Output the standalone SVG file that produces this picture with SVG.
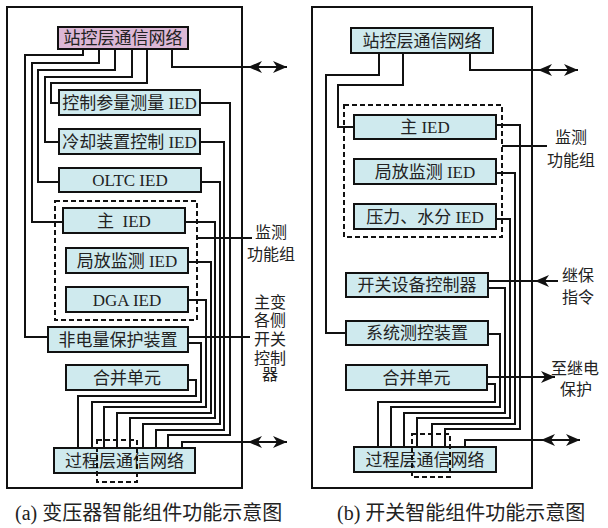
<svg xmlns="http://www.w3.org/2000/svg" width="608" height="528" viewBox="0 0 608 528">
<defs>
<marker id="ah" markerUnits="userSpaceOnUse" markerWidth="14" markerHeight="14" viewBox="0 0 14 14" refX="14" refY="7" orient="auto-start-reverse">
<path d="M0,1 L14,7 L0,13 L4,7 Z" fill="#111"/>
</marker>
<style>
.frame{fill:none;stroke:#111;stroke-width:2}
.box{fill:#cfeaee;stroke:#111;stroke-width:2}
.pink{fill:#dcb8d6;stroke:#111;stroke-width:2}
.dash{fill:none;stroke:#111;stroke-width:2;stroke-dasharray:5,3}
.w{fill:none;stroke:#111;stroke-width:2}
.arr{fill:none;stroke:#111;stroke-width:2;marker-end:url(#ah)}
.darr{fill:none;stroke:#111;stroke-width:2;marker-start:url(#ah);marker-end:url(#ah)}
text{font-family:"Liberation Serif","Noto Sans CJK SC",serif;fill:#222}
.t{font-size:17px;text-anchor:middle}
.l{font-size:16px;text-anchor:middle}
.c{font-size:20px}
</style>
</defs>
<rect x="0" y="0" width="608" height="528" fill="#fff"/>
<rect class="frame" x="7" y="7" width="235" height="481"/>
<rect class="frame" x="312" y="7" width="220" height="481"/>

<g id="connectors">
<!-- left panel, from station bus -->
<polyline class="w" points="83,49 83,55 25,55 25,337 48,337"/>
<polyline class="w" points="99,49 99,63 32,63 32,222 63,222"/>
<polyline class="w" points="115,49 115,70 38,70 38,182 59,182"/>
<polyline class="w" points="132,49 132,77 45,77 45,142 59,142"/>
<polyline class="w" points="147,49 147,83 51,83 51,103 59,103"/>
<polyline class="w" points="172,49 172,67 248,67"/>
<line class="darr" x1="248" y1="67" x2="287" y2="67"/>
<!-- left panel, to process bus -->
<polyline class="w" points="200,103 230,103 230,435 168,435 168,448"/>
<polyline class="w" points="200,142 224,142 224,430 156,430 156,448"/>
<polyline class="w" points="201,182 220,182 220,424 143,424 143,448"/>
<polyline class="w" points="185,222 215,222 215,418 130,418 130,448"/>
<polyline class="w" points="188,262 211,262 211,413 117,413 117,448"/>
<polyline class="w" points="188,300 206,300 206,407 104,407 104,448"/>
<polyline class="w" points="188,343 201,343 201,402 92,402 92,448"/>
<polyline class="w" points="188,380 196,380 196,396 78,396 78,448"/>
<polyline class="w" points="182,448 182,442 248,442"/>
<line class="darr" x1="248" y1="442" x2="287" y2="442"/>
<line class="w" x1="197" y1="238" x2="252" y2="238"/>
<line class="w" x1="188" y1="337" x2="250" y2="337"/>

<!-- right panel, from station bus -->
<polyline class="w" points="379,53 379,75 326,75 326,333 346,333"/>
<polyline class="w" points="403,53 403,85 338,85 338,127 354,127"/>
<polyline class="w" points="470,53 470,70 538,70"/>
<line class="darr" x1="538" y1="70" x2="578" y2="70"/>
<!-- right panel, to process bus -->
<polyline class="w" points="496,125 520,125 520,429 445,429 445,447"/>
<polyline class="w" points="496,173 515,173 515,424 432,424 432,447"/>
<polyline class="w" points="496,219 510,219 510,418 417,418 417,447"/>
<polyline class="w" points="488,288 505,288 505,413 404,413 404,447"/>
<polyline class="w" points="488,334 500,334 500,407 391,407 391,447"/>
<polyline class="w" points="487,384 495,384 495,402 378,402 378,447"/>
<polyline class="w" points="465,447 465,440 541,440"/>
<line class="darr" x1="541" y1="440" x2="580" y2="440"/>
<line class="w" x1="488" y1="281" x2="535" y2="281"/>
<line class="arr" x1="558" y1="281" x2="535" y2="281"/>
<line class="arr" x1="487" y1="377" x2="555" y2="377"/>
<line class="w" x1="502" y1="146" x2="547" y2="146"/>
</g>

<!-- left panel nodes -->
<g id="a-station-bus"><rect class="pink" x="58" y="27" width="130" height="22"/><text class="t" x="123" y="44">站控层通信网络</text></g>
<g id="a-param-ied"><rect class="box" x="59" y="90" width="141" height="25"/><text class="t" x="129.5" y="108.5">控制参量测量 IED</text></g>
<g id="a-cool-ied"><rect class="box" x="59" y="129" width="141" height="25"/><text class="t" x="129.5" y="147.5">冷却装置控制 IED</text></g>
<g id="a-oltc-ied"><rect class="box" x="59" y="168" width="142" height="24"/><text class="t" x="130" y="186">OLTC IED</text></g>
<g id="a-monitor-group"><rect class="dash" x="55" y="201" width="142" height="119"/></g>
<g id="a-main-ied"><rect class="box" x="63" y="208" width="122" height="25"/><text class="t" x="124" y="226.5" xml:space="preserve">主  IED</text></g>
<g id="a-pd-ied"><rect class="box" x="66" y="248" width="122" height="25"/><text class="t" x="127" y="266.5">局放监测 IED</text></g>
<g id="a-dga-ied"><rect class="box" x="66" y="287" width="122" height="25"/><text class="t" x="127" y="305.5">DGA IED</text></g>
<g id="a-nonelec"><rect class="box" x="48" y="327" width="140" height="25"/><text class="t" x="118" y="345.5">非电量保护装置</text></g>
<g id="a-merge"><rect class="box" x="66" y="365" width="122" height="25"/><text class="t" x="127" y="383.5">合并单元</text></g>
<g id="a-process-bus"><rect class="box" x="54" y="448" width="141" height="25"/><text class="t" x="124.5" y="466.5">过程层通信网络</text><rect class="dash" x="97" y="440" width="40" height="42"/></g>
<g id="a-labels">
<text class="l" x="271" y="237.5">监测</text>
<text class="l" x="271" y="259.5">功能组</text>
<text class="l" x="270" y="307.5">主变</text>
<text class="l" x="270" y="326">各侧</text>
<text class="l" x="270" y="345">开关</text>
<text class="l" x="270" y="363.5">控制</text>
<text class="l" x="270" y="380">器</text>
</g>

<!-- right panel nodes -->
<g id="b-station-bus"><rect class="box" x="351" y="28" width="142" height="25"/><text class="t" x="422" y="46.5">站控层通信网络</text></g>
<g id="b-monitor-group"><rect class="dash" x="344" y="105" width="158" height="132"/></g>
<g id="b-main-ied"><rect class="box" x="354" y="115" width="142" height="24"/><text class="t" x="425" y="133">主 IED</text></g>
<g id="b-pd-ied"><rect class="box" x="354" y="159" width="142" height="25"/><text class="t" x="425" y="177.5">局放监测 IED</text></g>
<g id="b-gas-ied"><rect class="box" x="354" y="204" width="142" height="25"/><text class="t" x="425" y="222.5">压力、水分 IED</text></g>
<g id="b-switch-ctrl"><rect class="box" x="346" y="273" width="142" height="24"/><text class="t" x="417" y="291">开关设备控制器</text></g>
<g id="b-sys-ctrl"><rect class="box" x="346" y="321" width="142" height="24"/><text class="t" x="417" y="339">系统测控装置</text></g>
<g id="b-merge"><rect class="box" x="346" y="365" width="141" height="25"/><text class="t" x="416.5" y="383.5">合并单元</text></g>
<g id="b-process-bus"><rect class="box" x="354" y="447" width="142" height="25"/><text class="t" x="425" y="465.5">过程层通信网络</text><rect class="dash" x="412" y="434" width="38" height="43"/></g>
<g id="b-labels">
<text class="l" x="571" y="142.5">监测</text>
<text class="l" x="571" y="165.5">功能组</text>
<text class="l" x="578" y="280.5">继保</text>
<text class="l" x="578" y="302.5">指令</text>
<text class="l" x="575" y="373.5">至继电</text>
<text class="l" x="576" y="394.5">保护</text>
</g>

<g id="captions">
<text class="c" x="15" y="520">(a) 变压器智能组件功能示意图</text>
<text class="c" x="337" y="520">(b) 开关智能组件功能示意图</text>
</g>
</svg>
